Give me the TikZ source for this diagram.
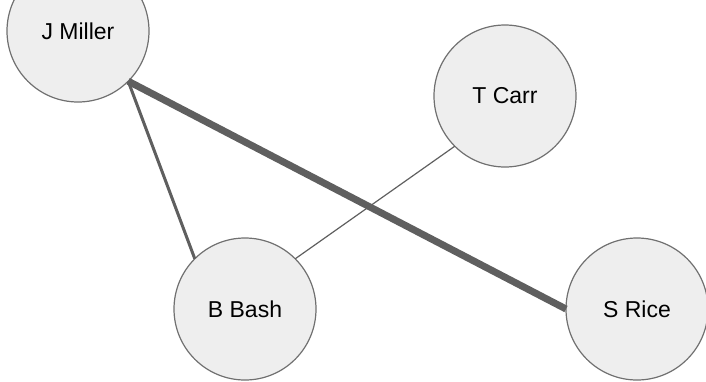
\documentclass[tikz,border=0pt]{standalone}
\usepackage{fontspec}
\setmainfont{Liberation Sans}
\definecolor{nodefill}{HTML}{EEEEEE}
\definecolor{nodeline}{HTML}{707070}
\definecolor{edgecol}{HTML}{5F5F5F}
\begin{document}
\begin{tikzpicture}[x=1pt,y=-1pt,
  person/.style={circle, draw=nodeline, fill=nodefill, line width=1.2pt,
    minimum size=142pt, inner sep=0pt, outer sep=0pt,
    font=\fontsize{23}{26}\selectfont, text=black},
  tie/.style={draw=edgecol, line cap=butt}]
\useasboundingbox (0,0) rectangle (706,381);
% people
\node[person] (miller) at (78,31)  {\raisebox{-4pt}{J Miller}};
\node[person] (carr)   at (505,96) {T Carr};
\node[person] (bash)   at (245,309) {B Bash};
\node[person] (rice)   at (637,309) {S Rice};
% ties, drawn by strength
\draw[tie, line width=1.2pt] (bash.45) -- (carr.225);
\draw[tie, line width=3pt]   (miller.-45) -- (bash.135);
\draw[tie, line width=7pt]   (miller.-45) -- (rice.west);
\end{tikzpicture}
\end{document}
